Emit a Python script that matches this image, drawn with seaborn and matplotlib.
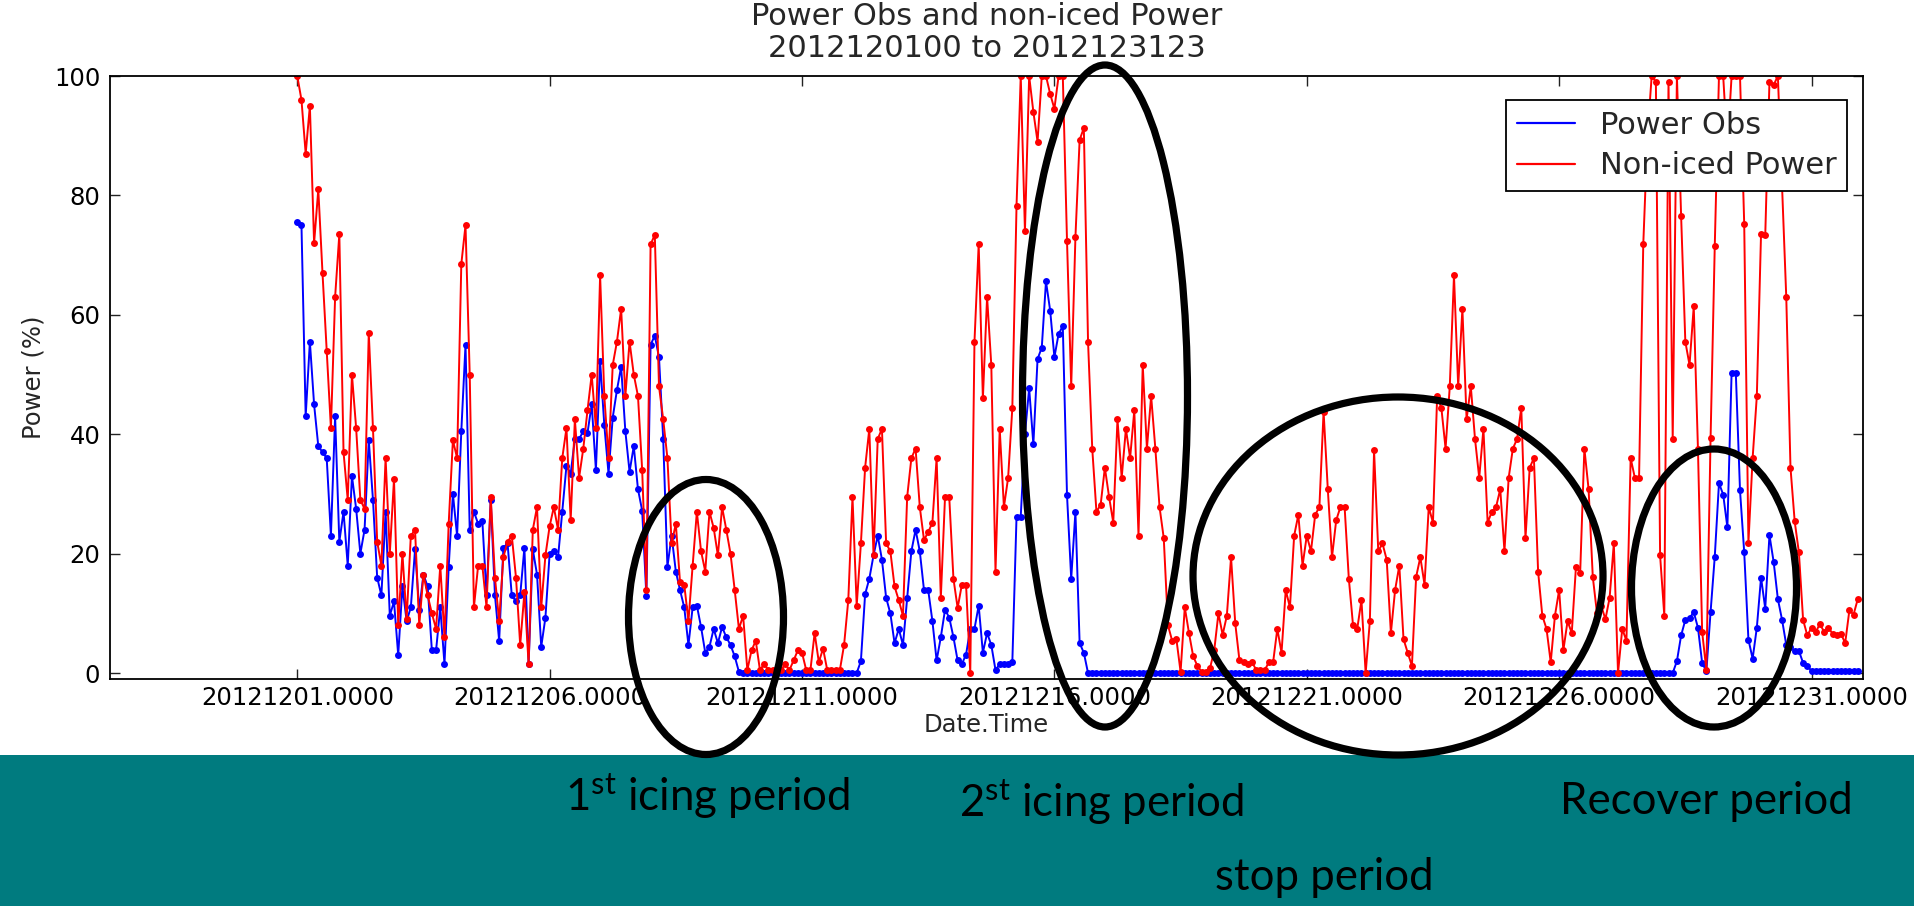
import numpy as np
import pandas as pd
import matplotlib
matplotlib.use("Agg")
import matplotlib.pyplot as plt
import seaborn as sns
from matplotlib.patches import Ellipse, Rectangle
from matplotlib.lines import Line2D

# ---------------- data ----------------
title = "Power Obs and non-iced Power\n2012120100 to 2012123123"
series_names = ["Power Obs", "Non-iced Power"]
series_colors = ["#0000ff", "#ff0000"]
start_time = "2012-12-01 00:00"
sample_freq = "2h"
tick_days = [0, 5, 10, 15, 20, 25, 30]
tick_labels = ["20121201.0000", "20121206.0000", "20121211.0000", "20121216.0000",
               "20121221.0000", "20121226.0000", "20121231.0000"]
y_ticks = [0, 20, 40, 60, 80, 100]
x_label = "Date.Time"
y_label = "Power (%)"

# one row per day, 2-hourly samples
power_obs = [
    75.5, 75, 43, 55.5, 45, 38, 37, 36, 23, 43, 22, 27,
    18, 33, 27.5, 20, 24, 39, 29, 16, 13, 27, 9.6, 12,
    3, 14.5, 8.7, 11, 20.7, 10.6, 16.5, 14.5, 3.8, 3.8, 11, 1.5,
    17.8, 30, 23, 40.5, 55, 24, 27, 25, 25.5, 13, 29, 13,
    5.4, 21, 21.7, 13, 12, 13, 21, 1.5, 20.7, 16.5, 4.4, 9.3,
    20, 20.4, 19.4, 27, 34.7, 33.4, 39.2, 39.2, 40.5, 40.2, 45, 34,
    52.2, 41.5, 33.4, 42.8, 47.4, 51.3, 40.5, 33.7, 38, 30.8, 27.2, 12.9,
    55, 56.5, 52.9, 39.2, 17.8, 23, 17, 13.9, 11, 4.7, 11, 11.3,
    7.7, 3.4, 4.4, 7.4, 5, 7.7, 6, 4.7, 2.8, 0.2, 0, 0,
    0, 0, 0, 0, 0, 0, 0, 0, 0, 0, 0, 0,
    0, 0, 0, 0, 0, 0, 0, 0, 0, 0, 0, 0,
    0, 0, 2, 13.2, 15.8, 19.7, 23, 19, 12.6, 10, 5, 7.4,
    4.7, 12.6, 20.4, 24, 20.4, 13.9, 13.9, 8.7, 2.1, 6, 10.6, 9.3,
    6, 2.1, 1.5, 3.1, 7.4, 7.4, 11.3, 3.4, 6.7, 4.7, 0.5, 1.5,
    1.5, 1.5, 1.8, 26.2, 26.2, 40, 47.7, 38.3, 52.6, 54.5, 65.6, 60.7,
    52.9, 56.8, 58.1, 29.8, 15.8, 27, 5, 3.4, 0, 0, 0, 0,
    0, 0, 0, 0, 0, 0, 0, 0, 0, 0, 0, 0,
    0, 0, 0, 0, 0, 0, 0, 0, 0, 0, 0, 0,
    0, 0, 0, 0, 0, 0, 0, 0, 0, 0, 0, 0,
    0, 0, 0, 0, 0, 0, 0, 0, 0, 0, 0, 0,
    0, 0, 0, 0, 0, 0, 0, 0, 0, 0, 0, 0,
    0, 0, 0, 0, 0, 0, 0, 0, 0, 0, 0, 0,
    0, 0, 0, 0, 0, 0, 0, 0, 0, 0, 0, 0,
    0, 0, 0, 0, 0, 0, 0, 0, 0, 0, 0, 0,
    0, 0, 0, 0, 0, 0, 0, 0, 0, 0, 0, 0,
    0, 0, 0, 0, 0, 0, 0, 0, 0, 0, 0, 0,
    0, 0, 0, 0, 0, 0, 0, 0, 0, 0, 0, 0,
    0, 0, 0, 0, 2, 6.3, 8.9, 9.2, 10.2, 7.6, 1.7, 0.3,
    10.2, 19.5, 31.8, 29.9, 24.4, 50.3, 50.3, 30.6, 20.2, 5.6, 2.4, 7.6,
    16, 10.8, 23.1, 18.6, 12.4, 8.9, 4.7, 4.3, 3.7, 3.7, 1.7, 1.1,
    0.4, 0.4, 0.4, 0.4, 0.4, 0.4, 0.4, 0.4, 0.4, 0.4, 0.4, 0.4,
]

non_iced_power = [
    100, 96, 87, 95, 72, 81, 67, 54, 41, 63, 73.5, 37,
    29, 50, 41, 29, 27.5, 57, 41, 22, 18, 36, 20, 32.5,
    8, 20, 9, 23, 24, 8, 16.5, 13, 10, 7.4, 18, 6,
    25, 39, 36, 68.5, 75, 50, 11, 18, 18, 11, 29.5, 16,
    8.7, 19.4, 22, 23, 16, 4.7, 13.5, 1.5, 24, 27.8, 11, 19.7,
    24.6, 27.8, 24, 36, 41, 25.6, 42.5, 32.7, 37.6, 44, 50, 41,
    66.6, 46.4, 36, 51.6, 55.5, 61, 46.4, 55.5, 50, 46.4, 34, 13.9,
    71.8, 73.4, 48, 42.5, 36, 21.7, 25, 15.2, 14.8, 8.7, 18, 27,
    20.4, 17, 27, 24.3, 19.7, 27.8, 24, 20, 13.9, 7.4, 9.6, 0.5,
    3.8, 5.4, 0.5, 1.5, 0.5, 0.5, 0.5, 0.5, 1.5, 0.5, 2.1, 3.8,
    3.4, 0.5, 0.5, 6.7, 1.8, 4.1, 0.5, 0.5, 0.5, 0.5, 4.7, 12.2,
    29.5, 11.3, 21.7, 34.4, 40.9, 19.7, 39.2, 40.9, 21.7, 20.4, 14.5, 12.2,
    9.6, 29.5, 36, 37.6, 27.8, 22.3, 23.6, 25.2, 36, 12.6, 29.5, 29.5,
    15.8, 10.9, 14.8, 14.8, 0, 55.5, 71.8, 46, 63, 51.6, 17, 40.9,
    27.8, 32.7, 44.4, 78.3, 100, 74, 100, 94, 89, 100, 100, 97,
    94.5, 100, 100, 72.4, 48, 73, 89.3, 91.3, 55.5, 37.6, 27, 28.2,
    34.4, 29.5, 25.2, 42.5, 32.7, 40.9, 36, 44, 23, 51.6, 37.6, 46.4,
    37.6, 27.8, 22.6, 8, 5.4, 5.7, 0.2, 11, 6.7, 2.8, 1.2, 0.2,
    0.2, 0.8, 3.8, 10, 6.4, 9.6, 19.4, 8.3, 2.1, 1.8, 1.5, 1.8,
    0.5, 0.5, 0.5, 1.8, 1.8, 7.4, 3.4, 13.9, 11, 23, 26.5, 18,
    23, 20.4, 26.5, 27.8, 43.8, 30.8, 19.4, 25.6, 27.8, 27.8, 15.8, 8,
    7.4, 12.2, 0, 8.7, 37.3, 20.4, 21.7, 19, 6.7, 13.9, 18, 5.7,
    3.4, 1.2, 16.1, 19.4, 14.8, 27.8, 25.2, 46.4, 44.4, 37.6, 48, 66.6,
    48, 61, 42.5, 48, 39.2, 32.7, 40.9, 25.2, 27, 27.8, 30.8, 20.4,
    32.7, 37.6, 39.2, 44.4, 22.6, 34.4, 36, 17, 9.6, 7.4, 1.8, 9.6,
    13.9, 3.8, 8.7, 6.7, 17.8, 16.8, 37.6, 30.8, 16.1, 10, 11.3, 9,
    12.6, 21.7, 0, 7.4, 5.4, 36, 32.7, 32.7, 71.8, 90, 100, 99,
    19.7, 9.6, 99, 39.2, 100, 76.5, 55.5, 51.6, 61.4, 37.6, 6.9, 0.5,
    39.3, 71.6, 100, 100, 88, 100, 100, 100, 75.2, 21.8, 36, 46.4,
    73.6, 73.3, 99, 98.5, 100, 81.4, 62.9, 34.4, 25.4, 20.2, 8.9, 6.3,
    7.6, 6.9, 8.2, 6.9, 7.6, 6.6, 6.3, 6.6, 5, 10.5, 9.8, 12.4,
]

annotation_texts = ["1$^{\\mathrm{st}}$ icing period", "2$^{\\mathrm{st}}$ icing period",
                    "Recover period", "stop period"]

# ---------------- build frame ----------------
times = pd.date_range(start_time, periods=len(power_obs), freq=sample_freq)
day = ((times - times[0]) / pd.Timedelta(days=1)).to_numpy()
df = pd.DataFrame({
    "day": np.concatenate([day, day]),
    "power": np.concatenate([power_obs, non_iced_power]),
    "series": [series_names[0]] * len(day) + [series_names[1]] * len(day),
})

# ---------------- style ----------------
sns.set_theme(style="ticks")
plt.rcParams["font.family"] = ["DejaVu Sans"]
plt.rcParams["mathtext.fontset"] = "custom"
plt.rcParams["mathtext.rm"] = "Lato"
plt.rcParams["mathtext.it"] = "Lato"
plt.rcParams["mathtext.bf"] = "Lato"

W, H = 1915, 906
fig = plt.figure(figsize=(W / 100, H / 100), dpi=100)
fig.patch.set_facecolor("white")
ax = fig.add_axes([110 / W, 1 - 679 / H, 1753 / W, 603 / H])

sns.lineplot(data=df, x="day", y="power", hue="series", hue_order=series_names,
             palette=series_colors, marker="o", markersize=5, markeredgewidth=0,
             linewidth=1.4, estimator=None, sort=False, legend=False, ax=ax)

ax.set_xlim(-3.71, 31.02)
ax.set_ylim(-1, 100)
ax.set_xticks(tick_days)
ax.set_xticklabels(tick_labels)
ax.set_yticks(y_ticks)
ax.tick_params(axis="both", direction="in", top=True, right=True, length=7,
               width=1, labelsize=17.5, colors="#222222", labelcolor="black")
ax.tick_params(axis="x", pad=5)
ax.tick_params(axis="y", pad=7)
for sp in ax.spines.values():
    sp.set_color("black")
    sp.set_linewidth(1.3)
ax.set_xlabel(x_label, fontsize=17.5, labelpad=2)
ax.set_ylabel(y_label, fontsize=17.5, labelpad=6)
ax.set_title(title, fontsize=22, linespacing=1.1, pad=14)

handles = [Line2D([0], [0], color=c, lw=1.6) for c in series_colors]
leg = ax.legend(handles, series_names, loc="upper right",
                bbox_to_anchor=(0.9909, 0.960), borderaxespad=0, fontsize=22,
                frameon=True, fancybox=False, framealpha=1, edgecolor="black",
                handlelength=1.9, handletextpad=0.8, labelspacing=0.38,
                borderpad=0.35)
leg.get_frame().set_linewidth(1.3)

# ---------------- slide band + annotations ----------------
band_top = 755
fig.add_artist(Rectangle((0, 0), 1, (H - band_top) / H, transform=fig.transFigure,
                         facecolor="#007b7f", edgecolor="none", zorder=5))

ellipses = [  # center x, center y, width, height (px)
    (706, 617, 155, 275),
    (1105, 396, 165, 662),
    (1398, 576, 410, 358),
    (1714, 588, 165, 278),
]
for cx, cy, ew, eh in ellipses:
    fig.add_artist(Ellipse((cx / W, 1 - cy / H), ew / W, eh / H,
                           transform=fig.transFigure, fill=False,
                           edgecolor="black", linewidth=5.2, zorder=10))

text_pos = [(565, 796), (959, 802), (1560, 802), (1215, 877)]
for txt, (tx, ty) in zip(annotation_texts, text_pos):
    fig.text(tx / W, 1 - ty / H, txt, ha="left", va="center", fontsize=31.5,
             family="Lato", color="black", zorder=11)

fig.savefig("out.png", dpi=100, facecolor="white")
